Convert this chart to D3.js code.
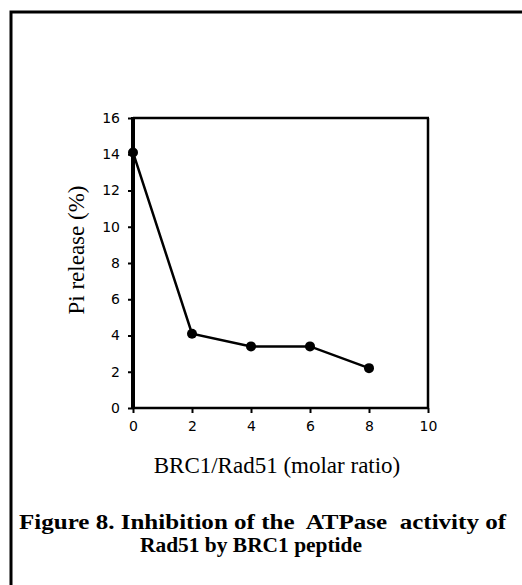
<!DOCTYPE html>
<html>
<head>
<meta charset="utf-8">
<script src="https://cdn.jsdelivr.net/npm/d3@7"></script>
<style>
  body { margin: 0; background: #fff; }
  .tick text { font-family: "DejaVu Sans", sans-serif; font-size: 14px; fill: #000; }
</style>
</head>
<body>
<script>
// values
const ratio = [0, 2, 4, 6, 8];
const piRelease = [14.1, 4.1, 3.4, 3.4, 2.2];
const xTicks = [0, 2, 4, 6, 8, 10];
const yTicks = [0, 2, 4, 6, 8, 10, 12, 14, 16];

const width = 522;
const height = 585;
const plotLeft = 133, plotRight = 428, plotTop = 118, plotBottom = 408;

const svg = d3.select('body')
    .append('svg')
    .attr('width', width)
    .attr('height', height);

// outer frame, runs off the right and bottom edge
svg.append('rect')
    .attr('x', 11)
    .attr('y', 12)
    .attr('width', 530)
    .attr('height', 600)
    .attr('fill', 'none')
    .attr('stroke', '#000')
    .attr('stroke-width', 3);

const xScale = d3.scaleLinear()
    .domain([0, 10])
    .range([plotLeft, plotRight]);

const yScale = d3.scaleLinear()
    .domain([0, 16])
    .range([plotBottom, plotTop]);

const xAxis = d3.axisBottom(xScale)
    .tickValues(xTicks)
    .tickSize(5)
    .tickPadding(8);

const yAxis = d3.axisLeft(yScale)
    .tickValues(yTicks)
    .tickSize(5)
    .tickPadding(8);

const gx = svg.append('g')
    .attr('transform', `translate(0, ${plotBottom})`)
    .call(xAxis);

const gy = svg.append('g')
    .attr('transform', `translate(${plotLeft}, 0)`)
    .call(yAxis);

[gx, gy].forEach(g => {
    g.select('.domain').remove();
    g.selectAll('.tick line').attr('stroke', '#000').attr('stroke-width', 2);
});

// box round the plot, left side heavier
svg.append('line')
    .attr('x1', plotLeft).attr('x2', plotLeft)
    .attr('y1', plotTop - 1).attr('y2', plotBottom + 1)
    .attr('stroke', '#000').attr('stroke-width', 4);
svg.append('line')
    .attr('x1', plotLeft).attr('x2', plotRight + 1)
    .attr('y1', plotBottom).attr('y2', plotBottom)
    .attr('stroke', '#000').attr('stroke-width', 2.5);
svg.append('line')
    .attr('x1', plotRight).attr('x2', plotRight)
    .attr('y1', plotTop).attr('y2', plotBottom)
    .attr('stroke', '#000').attr('stroke-width', 2.5);
svg.append('line')
    .attr('x1', plotLeft).attr('x2', plotRight + 1)
    .attr('y1', plotTop).attr('y2', plotTop)
    .attr('stroke', '#000').attr('stroke-width', 2.5);

const line = d3.line()
    .x((d, i) => xScale(ratio[i]))
    .y(d => yScale(d));

svg.append('path')
    .datum(piRelease)
    .attr('d', line)
    .attr('fill', 'none')
    .attr('stroke', '#000')
    .attr('stroke-width', 2.5);

svg.selectAll('circle.pt')
    .data(piRelease)
    .enter()
    .append('circle')
    .attr('class', 'pt')
    .attr('cx', (d, i) => xScale(ratio[i]))
    .attr('cy', d => yScale(d))
    .attr('r', 5)
    .attr('fill', '#000');

// axis titles
svg.append('text')
    .attr('transform', 'translate(84, 250) rotate(-90)')
    .attr('text-anchor', 'middle')
    .style('font-family', '"Liberation Serif", "Times New Roman", serif')
    .style('font-size', '23px')
    .text('Pi release (%)');

svg.append('text')
    .attr('x', 277)
    .attr('y', 473)
    .attr('text-anchor', 'middle')
    .style('font-family', '"Liberation Serif", "Times New Roman", serif')
    .style('font-size', '23px')
    .text('BRC1/Rad51 (molar ratio)');

// caption
const caption = svg.append('g')
    .style('font-family', '"Liberation Serif", "Times New Roman", serif')
    .style('font-size', '21px')
    .style('font-weight', 'bold');

caption.append('text')
    .attr('x', 19).attr('y', 529)
    .attr('xml:space', 'preserve')
    .attr('textLength', 487)
    .attr('lengthAdjust', 'spacingAndGlyphs')
    .text('Figure 8. Inhibition of the  ATPase  activity of');
caption.append('text')
    .attr('x', 140).attr('y', 552)
    .attr('textLength', 222)
    .attr('lengthAdjust', 'spacingAndGlyphs')
    .text('Rad51 by BRC1 peptide');
</script>
</body>
</html>
